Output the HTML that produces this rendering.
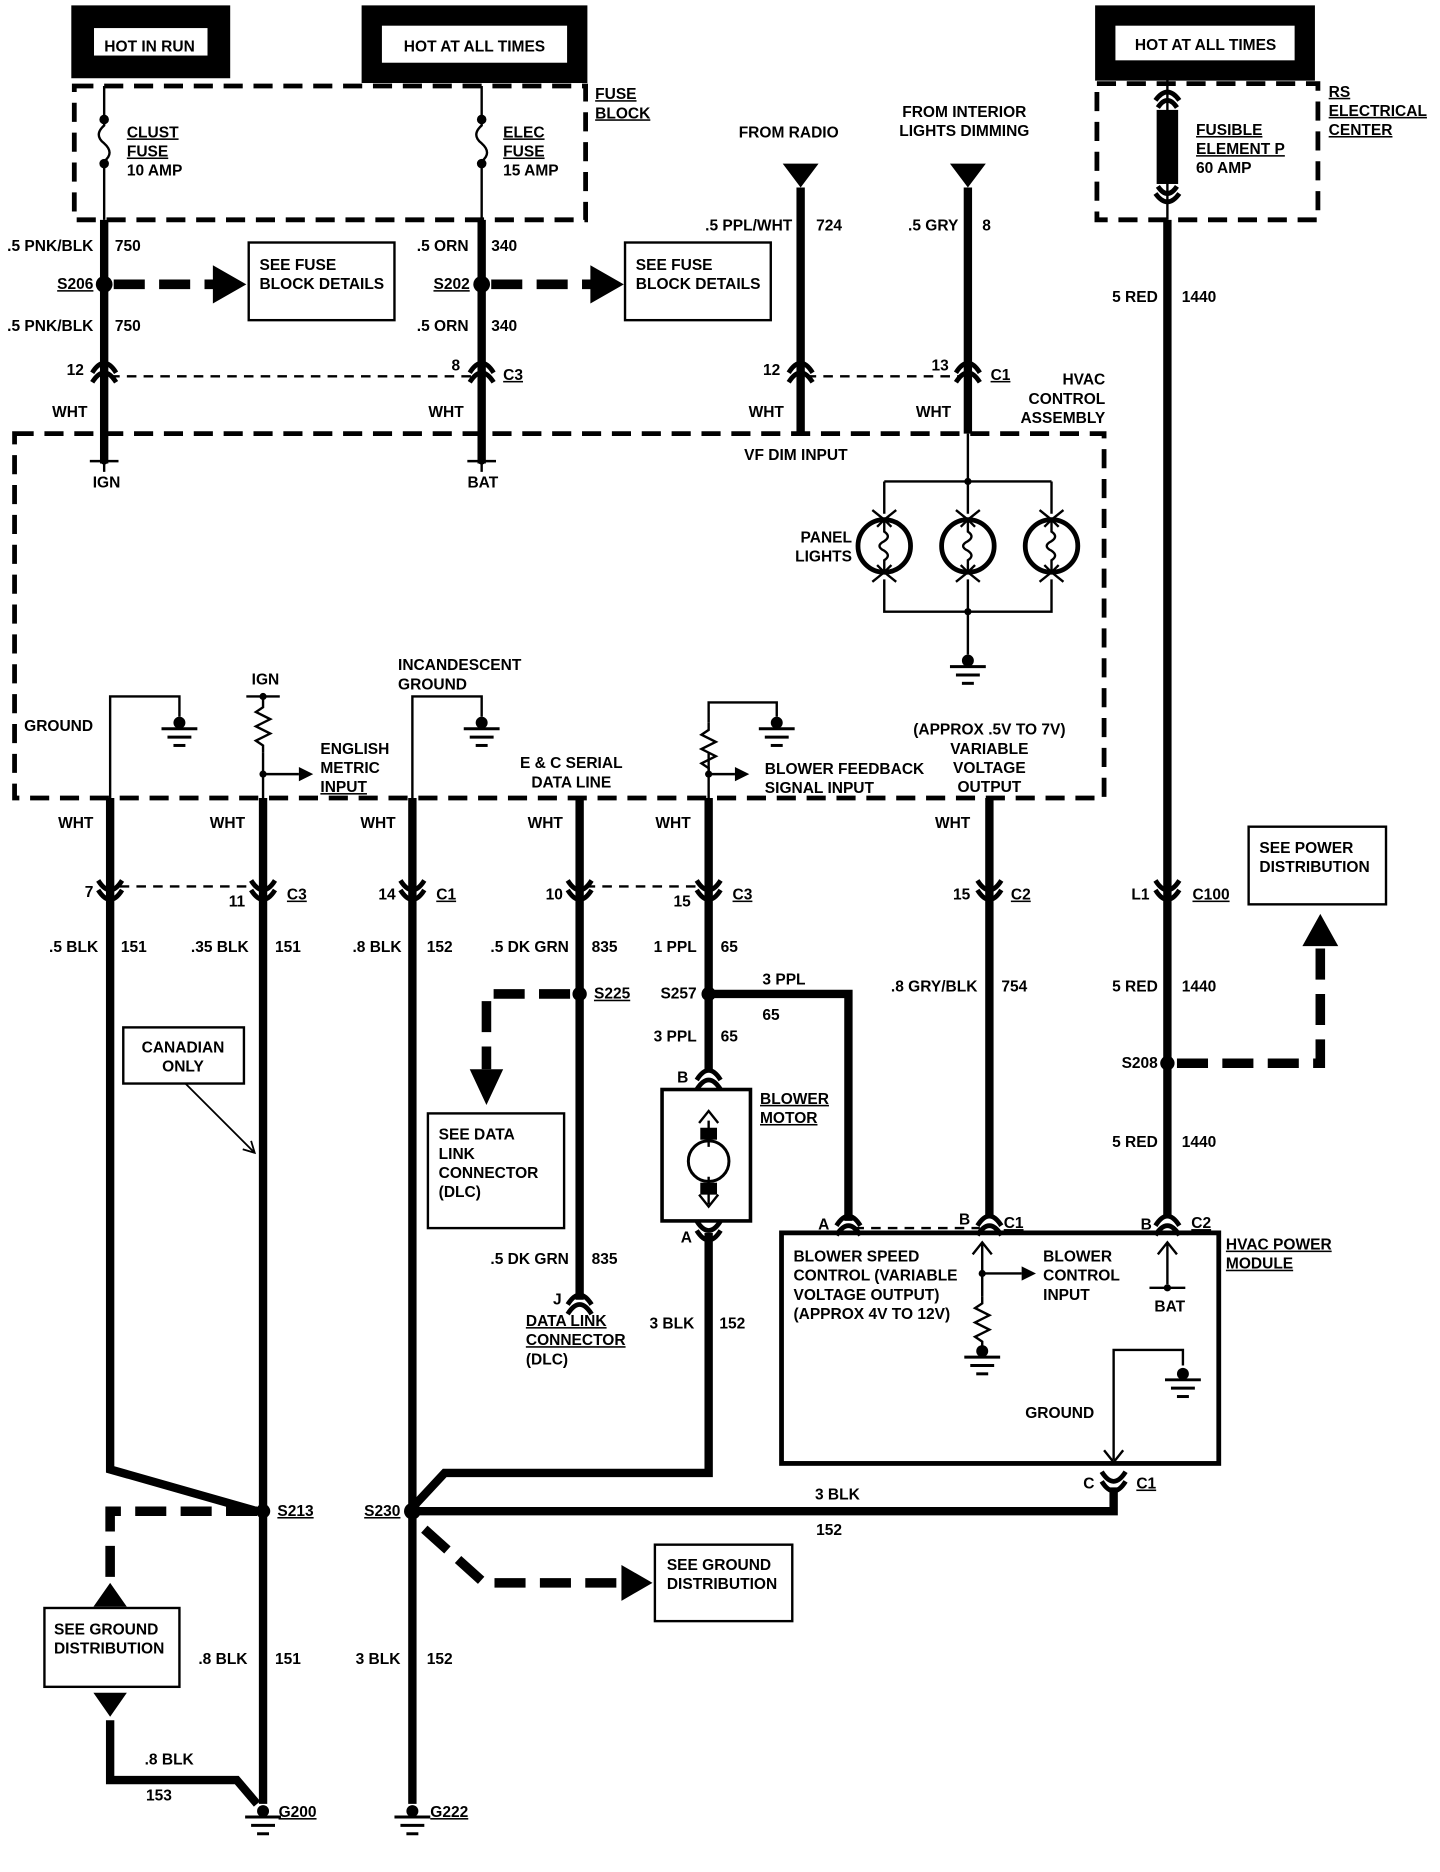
<!DOCTYPE html>
<html><head><meta charset="utf-8"><style>
html,body{margin:0;padding:0;background:#fff}
svg{display:block}
text{font-family:"Liberation Sans Narrow","Liberation Sans",sans-serif;font-weight:bold;font-size:13px;fill:#000}
</style></head><body>
<svg width="1440" height="1872" viewBox="0 0 1205 1567" xmlns="http://www.w3.org/2000/svg">
<defs>
<g id="cu"><path d="M-10,2 Q0,-14 10,2 M-10,10 Q0,-6 10,10" fill="none" stroke="#000" stroke-width="4"/></g>
<g id="cd"><path d="M-10,-8 Q0,8 10,-8 M-10,0 Q0,16 10,0" fill="none" stroke="#000" stroke-width="4"/></g>
<g id="gnd"><circle cx="0" cy="0" r="5"/><line x1="-15" y1="5" x2="15" y2="5" stroke="#000" stroke-width="2.5"/><line x1="-10" y1="12" x2="10" y2="12" stroke="#000" stroke-width="2.5"/><line x1="-5" y1="19" x2="5" y2="19" stroke="#000" stroke-width="2.5"/></g>
<g id="res"><path d="M0,0 L0,6 L-6,10 L6,16 L-6,22 L6,28 L-6,34 L0,38 L0,44" fill="none" stroke="#000" stroke-width="2"/></g>
<g id="lamp"><circle cx="0" cy="0" r="22" fill="none" stroke="#000" stroke-width="4"/><path d="M0,-22 L0,-12 Q6,-8 0,-4 Q-8,0 0,4 Q6,8 0,12 L0,22 M-6,-16 L0,-22 L6,-16 M-6,16 L0,22 L6,16" fill="none" stroke="#000" stroke-width="2"/><path d="M-10,-30 L0,-22 L10,-30 M-10,30 L0,22 L10,30" fill="none" stroke="#000" stroke-width="2"/></g>
</defs>
<g stroke="#000" fill="none">
<rect x="69" y="14" width="114" height="42" stroke-width="19"/>
<rect x="311" y="13" width="172" height="48" stroke-width="17"/>
<rect x="925" y="13" width="167" height="46" stroke-width="17"/>
<rect x="62" y="72" width="428" height="112" stroke-width="4" stroke-dasharray="16,9"/>
<rect x="918" y="70" width="185" height="114" stroke-width="4" stroke-dasharray="16,9"/>
<rect x="12" y="363" width="912" height="305" stroke-width="4" stroke-dasharray="16,9"/>
<rect x="654" y="1032" width="366" height="193" stroke-width="4"/>
<rect x="208" y="203" width="122" height="65" stroke-width="2"/>
<rect x="523" y="203" width="122" height="65" stroke-width="2"/>
<rect x="103" y="860" width="101" height="47" stroke-width="2"/>
<rect x="358" y="932" width="114" height="96" stroke-width="2"/>
<rect x="1045" y="692" width="115" height="65" stroke-width="2"/>
<rect x="37" y="1346" width="113" height="66" stroke-width="2"/>
<rect x="548" y="1293" width="115" height="64" stroke-width="2"/>
<rect x="554" y="912" width="74" height="110" stroke-width="3"/>
<path d="M87,72 V105 Q78,113 87,120 Q96,128 87,135 V184 M403,72 V105 Q394,113 403,120 Q412,128 403,135 V184" stroke-width="2"/>
<path d="M977,62 V184" stroke-width="2"/>
<g stroke-width="7">
<path d="M87,184 V388 M403,184 V388 M670,157 V363 M810,157 V363 M977,184 V1020"/>
<path d="M92,668 V1230 L215,1265 M220,668 V1510 M345,668 V1510 M485,668 V1088 M593,668 V895 M828,668 V1020"/>
<path d="M593,832 H710 V1022 M593,1032 V1233 H372 L345,1262 M932,1245 V1265 H345 M92,1440 V1490 H198 L215,1510"/>
<rect x="968" y="92" width="18" height="62" fill="#000" stroke="none"/>
</g>
<path d="M969,90 Q977,78 985,90 M969,156 Q977,168 985,156 M967,84 Q977,70 987,84 M967,162 Q977,176 987,162" stroke-width="4"/>
<g stroke-width="8" stroke-dasharray="26,12">
<path d="M95,238 H180 M411,238 H496 M477,832 H407 V895 M215,1265 H92 V1325 M355,1280 L405,1325 H520 M985,890 H1105 V790"/>
</g>
<g fill="#000" stroke="none">
<path d="M178,222 L206,238 L178,254Z M494,222 L522,238 L494,254Z M393,895 L407,925 L421,895Z M78,1345 L92,1325 L106,1345Z M78,1417 L92,1437 L106,1417Z M520,1310 L546,1325 L520,1340Z M1090,792 L1105,765 L1120,792Z"/>
<path d="M655,137 H685 L670,157Z M795,137 H825 L810,157Z"/>
<circle cx="87" cy="238" r="7"/><circle cx="403" cy="238" r="7"/><circle cx="485" cy="832" r="6"/><circle cx="593" cy="832" r="6"/><circle cx="977" cy="890" r="6"/><circle cx="220" cy="1265" r="6"/><circle cx="345" cy="1265" r="7"/>
<circle cx="87" cy="100" r="4"/><circle cx="87" cy="137" r="4"/><circle cx="403" cy="100" r="4"/><circle cx="403" cy="137" r="4"/>
</g>
<g stroke-width="2" stroke-dasharray="8,6">
<path d="M92,315 H398 M675,315 H805 M100,742 H214 M490,742 H588 M715,1028 H820"/>
</g>
<g stroke-width="2">
<path d="M87,388 V395 M75,386 H99 M403,388 V395 M391,386 H415"/>
<path d="M810,363 V403 M740,403 H880 M740,403 V430 M810,403 V430 M880,403 V430 M740,485 V512 H880 V485 M810,485 V512 M810,512 V548"/>
<path d="M92,668 V583 H150 V600 M220,668 V630 M206,583 H234 M220,583 V586 M220,648 H250 M345,668 V583 H403 V600 M593,668 V630 M593,605 V588 H650 V600 M593,648 H615"/>
<path d="M593,938 V960 M593,985 V1008 M585,1000 L593,1010 L601,1000 M585,940 L593,930 L601,940"/>
<path d="M822,1040 V1085 M814,1050 L822,1040 L830,1050 M822,1066 H855 M977,1040 V1075 M969,1050 L977,1040 L985,1050 M962,1078 H992 M932,1222 V1130 H990 V1143 M924,1214 L932,1224 L940,1214"/>
</g>
<circle cx="593" cy="972" r="17" stroke-width="2.5"/>
<rect x="586" y="990" width="14" height="10" fill="#000" stroke="none"/>
<rect x="586" y="944" width="14" height="10" fill="#000" stroke="none"/>
<path d="M155,907 L213,965 M203,962 L213,965 L210,955" stroke-width="1.5"/>
</g>
<g fill="#000">
<path d="M250,642 L262,648 L250,654Z M615,642 L627,648 L615,654Z M855,1060 L867,1066 L855,1072Z"/>
<circle cx="220" cy="583" r="3"/><circle cx="220" cy="648" r="3"/><circle cx="593" cy="648" r="3"/><circle cx="810" cy="403" r="3"/><circle cx="810" cy="512" r="3"/><circle cx="822" cy="1066" r="3"/><circle cx="977" cy="1078" r="3"/><circle cx="87" cy="386" r="3"/><circle cx="403" cy="386" r="3"/>
</g>
<use href="#res" x="220" y="586"/><use href="#res" x="593" y="605"/><use href="#res" x="822" y="1085"/>
<use href="#gnd" x="150" y="605"/><use href="#gnd" x="403" y="605"/><use href="#gnd" x="650" y="605"/><use href="#gnd" x="810" y="553"/><use href="#gnd" x="822" y="1131"/><use href="#gnd" x="990" y="1150"/><use href="#gnd" x="220" y="1516"/><use href="#gnd" x="345" y="1516"/>
<use href="#lamp" x="740" y="457"/><use href="#lamp" x="810" y="457"/><use href="#lamp" x="880" y="457"/>
<use href="#cu" x="87" y="310"/><use href="#cu" x="403" y="310"/><use href="#cu" x="670" y="310"/><use href="#cu" x="810" y="310"/>
<use href="#cd" x="92" y="745"/><use href="#cd" x="220" y="745"/><use href="#cd" x="345" y="745"/><use href="#cd" x="485" y="745"/><use href="#cd" x="593" y="745"/><use href="#cd" x="828" y="745"/><use href="#cd" x="977" y="745"/>
<use href="#cu" x="593" y="902"/><use href="#cd" x="593" y="1030"/><use href="#cu" x="710" y="1024"/><use href="#cu" x="828" y="1024"/><use href="#cu" x="977" y="1024"/><use href="#cd" x="932" y="1240"/><use href="#cu" x="485" y="1090"/>
<g text-anchor="middle">
<text x="125" y="43">HOT IN RUN</text><text x="397" y="43">HOT AT ALL TIMES</text><text x="1009" y="42">HOT AT ALL TIMES</text>
<text x="660" y="115">FROM RADIO</text><text x="807" y="98">FROM INTERIOR</text><text x="807" y="114">LIGHTS DIMMING</text>
<text x="89" y="408">IGN</text><text x="404" y="408">BAT</text><text x="666" y="385">VF DIM INPUT</text>
<text x="222" y="573">IGN</text><text x="478" y="643">E &amp; C SERIAL</text><text x="478" y="659">DATA LINE</text>
<text x="828" y="615">(APPROX .5V TO 7V)</text><text x="828" y="631">VARIABLE</text><text x="828" y="647">VOLTAGE</text><text x="828" y="663">OUTPUT</text>
<text x="153" y="881">CANADIAN</text><text x="153" y="897">ONLY</text>
<text x="979" y="1098">BAT</text>
</g>
<g text-anchor="end">
<text x="78" y="210">.5 PNK/BLK</text><text x="78" y="277">.5 PNK/BLK</text><text x="392" y="210">.5 ORN</text><text x="392" y="277">.5 ORN</text>
<text x="663" y="193">.5 PPL/WHT</text><text x="802" y="193">.5 GRY</text><text x="969" y="253">5 RED</text>
<text x="70" y="314">12</text><text x="385" y="310">8</text><text x="653" y="314">12</text><text x="794" y="310">13</text>
<text x="73" y="349">WHT</text><text x="388" y="349">WHT</text><text x="656" y="349">WHT</text><text x="796" y="349">WHT</text>
<text x="713" y="454">PANEL</text><text x="713" y="470">LIGHTS</text>
<text x="925" y="322">HVAC</text><text x="925" y="338">CONTROL</text><text x="925" y="354">ASSEMBLY</text>
<text x="78" y="693">WHT</text><text x="205" y="693">WHT</text><text x="331" y="693">WHT</text><text x="471" y="693">WHT</text><text x="578" y="693">WHT</text><text x="812" y="693">WHT</text>
<text x="78" y="751">7</text><text x="205" y="759">11</text><text x="331" y="753">14</text><text x="471" y="753">10</text><text x="578" y="759">15</text><text x="812" y="753">15</text><text x="962" y="753">L1</text>
<text x="82" y="797">.5 BLK</text><text x="208" y="797">.35 BLK</text><text x="336" y="797">.8 BLK</text><text x="476" y="797">.5 DK GRN</text><text x="583" y="797">1 PPL</text>
<text x="818" y="830">.8 GRY/BLK</text><text x="969" y="830">5 RED</text><text x="969" y="960">5 RED</text>
<text x="583" y="836">S257</text><text x="969" y="894">S208</text><text x="583" y="872">3 PPL</text><text x="576" y="906">B</text><text x="579" y="1040">A</text>
<text x="476" y="1058">.5 DK GRN</text><text x="470" y="1092">J</text><text x="581" y="1112">3 BLK</text>
<text x="694" y="1029">A</text><text x="812" y="1025">B</text><text x="964" y="1029">B</text><text x="916" y="1246">C</text>
<text x="207" y="1393">.8 BLK</text><text x="335" y="1393">3 BLK</text><text x="162" y="1477">.8 BLK</text>
<text x="78" y="242" text-decoration="underline">S206</text><text x="393" y="242" text-decoration="underline">S202</text><text x="335" y="1269" text-decoration="underline">S230</text>
</g>
<g>
<text x="106" y="115" text-decoration="underline">CLUST</text><text x="106" y="131" text-decoration="underline">FUSE</text><text x="106" y="147">10 AMP</text>
<text x="421" y="115" text-decoration="underline">ELEC</text><text x="421" y="131" text-decoration="underline">FUSE</text><text x="421" y="147">15 AMP</text>
<text x="498" y="83" text-decoration="underline">FUSE</text><text x="498" y="99" text-decoration="underline">BLOCK</text>
<text x="1112" y="81" text-decoration="underline">RS</text><text x="1112" y="97" text-decoration="underline">ELECTRICAL</text><text x="1112" y="113" text-decoration="underline">CENTER</text>
<text x="1001" y="113" text-decoration="underline">FUSIBLE</text><text x="1001" y="129" text-decoration="underline">ELEMENT P</text><text x="1001" y="145">60 AMP</text>
<text x="96" y="210">750</text><text x="96" y="277">750</text><text x="411" y="210">340</text><text x="411" y="277">340</text><text x="683" y="193">724</text><text x="822" y="193">8</text><text x="989" y="253">1440</text>
<text x="217" y="226">SEE FUSE</text><text x="217" y="242">BLOCK DETAILS</text><text x="532" y="226">SEE FUSE</text><text x="532" y="242">BLOCK DETAILS</text>
<text x="421" y="318" text-decoration="underline">C3</text><text x="829" y="318" text-decoration="underline">C1</text>
<text x="20" y="612">GROUND</text><text x="333" y="561">INCANDESCENT</text><text x="333" y="577">GROUND</text>
<text x="268" y="631">ENGLISH</text><text x="268" y="647">METRIC</text><text x="268" y="663" text-decoration="underline">INPUT</text>
<text x="640" y="648">BLOWER FEEDBACK</text><text x="640" y="664">SIGNAL INPUT</text>
<text x="240" y="753" text-decoration="underline">C3</text><text x="365" y="753" text-decoration="underline">C1</text><text x="613" y="753" text-decoration="underline">C3</text><text x="846" y="753" text-decoration="underline">C2</text><text x="998" y="753" text-decoration="underline">C100</text>
<text x="101" y="797">151</text><text x="230" y="797">151</text><text x="357" y="797">152</text><text x="495" y="797">835</text><text x="603" y="797">65</text>
<text x="838" y="830">754</text><text x="989" y="830">1440</text><text x="989" y="960">1440</text>
<text x="497" y="836" text-decoration="underline">S225</text><text x="638" y="824">3 PPL</text><text x="638" y="854">65</text><text x="603" y="872">65</text>
<text x="367" y="954">SEE DATA</text><text x="367" y="970">LINK</text><text x="367" y="986">CONNECTOR</text><text x="367" y="1002">(DLC)</text>
<text x="1054" y="714">SEE POWER</text><text x="1054" y="730">DISTRIBUTION</text>
<text x="636" y="924" text-decoration="underline">BLOWER</text><text x="636" y="940" text-decoration="underline">MOTOR</text>
<text x="495" y="1058">835</text><text x="440" y="1110" text-decoration="underline">DATA LINK</text><text x="440" y="1126" text-decoration="underline">CONNECTOR</text><text x="440" y="1142">(DLC)</text>
<text x="602" y="1112">152</text>
<text x="840" y="1028" text-decoration="underline">C1</text><text x="997" y="1028" text-decoration="underline">C2</text>
<text x="1026" y="1046" text-decoration="underline">HVAC POWER</text><text x="1026" y="1062" text-decoration="underline">MODULE</text>
<text x="664" y="1056">BLOWER SPEED</text><text x="664" y="1072">CONTROL (VARIABLE</text><text x="664" y="1088">VOLTAGE OUTPUT)</text><text x="664" y="1104">(APPROX 4V TO 12V)</text>
<text x="873" y="1056">BLOWER</text><text x="873" y="1072">CONTROL</text><text x="873" y="1088">INPUT</text>
<text x="858" y="1187">GROUND</text><text x="951" y="1246" text-decoration="underline">C1</text>
<text x="682" y="1255">3 BLK</text><text x="683" y="1285">152</text>
<text x="232" y="1269" text-decoration="underline">S213</text>
<text x="558" y="1314">SEE GROUND</text><text x="558" y="1330">DISTRIBUTION</text>
<text x="45" y="1368">SEE GROUND</text><text x="45" y="1384">DISTRIBUTION</text>
<text x="230" y="1393">151</text><text x="357" y="1393">152</text><text x="122" y="1507">153</text>
<text x="233" y="1521" text-decoration="underline">G200</text><text x="360" y="1521" text-decoration="underline">G222</text>
</g>
</svg>
</body></html>
